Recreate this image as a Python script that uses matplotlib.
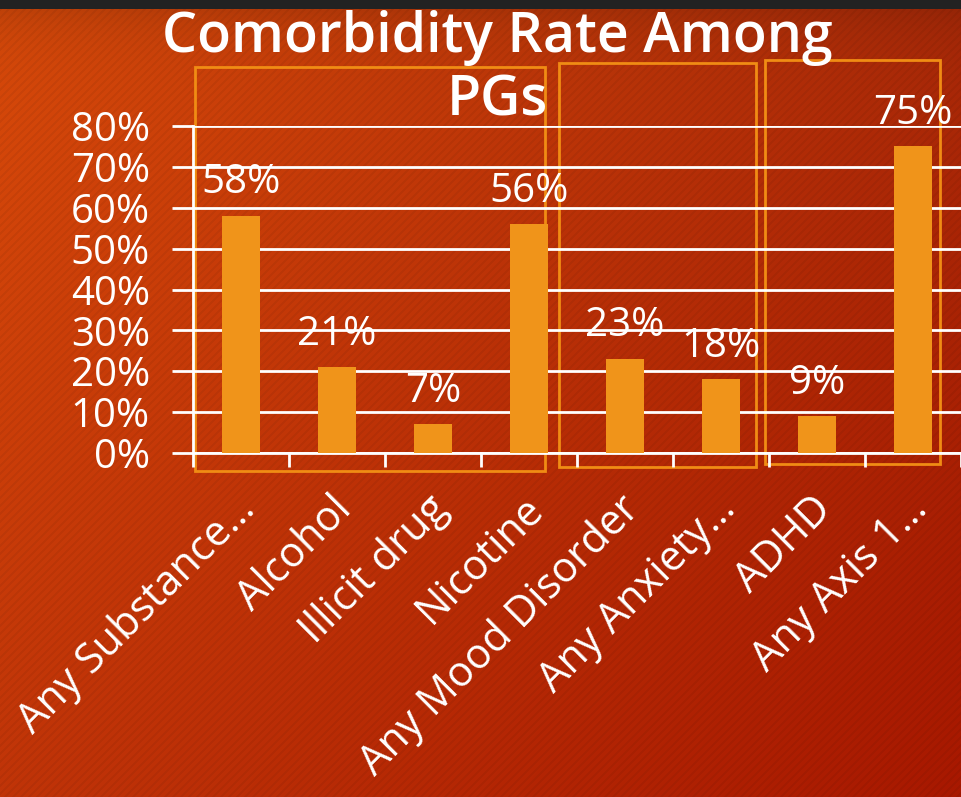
import matplotlib.pyplot as plt
import numpy as np
from matplotlib.patches import Rectangle
from matplotlib.transforms import ScaledTranslation

categories = ["Any Substance\u2026", "Alcohol", "Illicit drug", "Nicotine",
              "Any Mood Disorder", "Any Anxiety\u2026", "ADHD", "Any Axis 1\u2026"]
rates = [58, 21, 7, 56, 23, 18, 9, 75]
y_ticks = [0, 10, 20, 30, 40, 50, 60, 70, 80]
tick_labels = [f"{t}%" for t in y_ticks]
# group boxes in figure pixels: (left, top, right, bottom)
groups = [(195, 67, 545, 471), (559, 63, 756, 467), (765, 60, 940, 464)]

W, H = 961, 797
plt.rcParams['font.family'] = ['Open Sans', 'DejaVu Sans']
fig = plt.figure(figsize=(W / 100, H / 100), dpi=100)

# background: corner-blended orange-red with fine diagonal stripes
bg = fig.add_axes([0, 0, 1, 1])
yy, xx = np.mgrid[0:H, 0:W]
u = (xx / W)[..., None]
v = (yy / H)[..., None]
tl = np.array([216, 74, 10]) / 255
tr = np.array([170, 42, 8]) / 255
bl = np.array([192, 52, 8]) / 255
br = np.array([168, 24, 0]) / 255
img = (tl * (1 - u) + tr * u) * (1 - v) + (bl * (1 - u) + br * u) * v
img = img * (1 - 0.12 * np.exp(-np.clip(yy - 9, 0, None) / 30))[..., None]
stripes = ((xx + yy) % 8 < 3)[..., None]
img = img * np.where(stripes, 0.95, 1.0)
img[:9] = 0x22 / 255
bg.imshow(img, aspect='auto', extent=(0, W, H, 0))
bg.set_xlim(0, W)
bg.set_ylim(H, 0)
bg.axis('off')

ax = fig.add_axes([193 / W, 344 / H, 768 / W, 327 / H])
ax.patch.set_alpha(0)
x = np.arange(len(categories))
ax.bar(x, rates, width=0.4, color='#F0941A', zorder=3)
ax.set_xlim(-0.5, len(categories) - 0.5)
ax.set_ylim(0, 80)

ax.set_yticks(y_ticks, tick_labels)
ax.yaxis.grid(True, color='white', linewidth=2, zorder=1)
ax.tick_params(axis='y', colors='white', length=15, width=2, pad=16, labelsize=29)
ax.set_xticks(np.arange(-0.5, len(categories)))
ax.set_xticklabels([])
ax.tick_params(axis='x', colors='white', length=10, width=2)
for side in ['top', 'right']:
    ax.spines[side].set_visible(False)
ax.spines['left'].set_color('white')
ax.spines['left'].set_linewidth(2)
ax.spines['bottom'].set_color('white')
ax.spines['bottom'].set_linewidth(2)

for xi, r in zip(x, rates):
    ax.annotate(f"{r}%", (xi, r), xytext=(0, 9), textcoords='offset points',
                ha='center', va='bottom', color='white', fontsize=29)

shift = ScaledTranslation(0.08, -0.5, fig.dpi_scale_trans)
for xi, name in zip(x, categories):
    ax.text(xi, 0, name, rotation=45, ha='right', va='center',
            rotation_mode='anchor', color='white', fontsize=30,
            transform=ax.transData + shift)

for l, t_, r, b in groups:
    bg.add_patch(Rectangle((l, t_), r - l, b - t_, fill=False,
                           edgecolor='#F08C14', linewidth=2, zorder=5))

# two-line title, each line placed on its own baseline
for line, base in [("Comorbidity Rate Among", 52), ("PGs", 115)]:
    fig.text(497 / W, 1 - base / H, line, ha='center', va='baseline',
             color='white', fontsize=40, fontweight='semibold')

fig.savefig('out.png', dpi=100)
